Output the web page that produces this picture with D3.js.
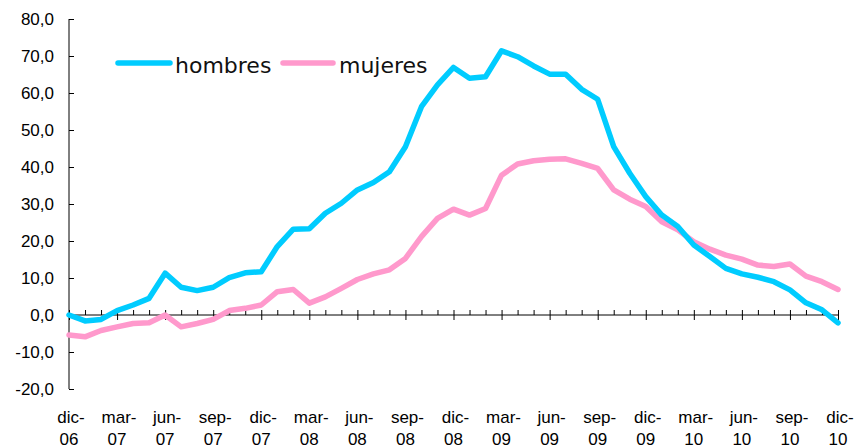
<!DOCTYPE html>
<html><head><meta charset="utf-8">
<script src="https://cdn.jsdelivr.net/npm/d3@7"></script>
<style>html,body{margin:0;padding:0;background:#fff}svg{display:block}</style>
</head><body>
<svg id="c" width="855" height="448"></svg>
<script>
const months = ["dic","ene","feb","mar","abr","may","jun","jul","ago","sep","oct","nov"];
const startYear = 2006; // first point: dic-06
const hombres = [0.0,-1.6,-1.2,1.2,2.7,4.5,11.3,7.5,6.6,7.5,10.1,11.4,11.7,18.5,23.2,23.3,27.5,30.2,33.8,35.8,38.7,45.5,56.3,62.2,66.9,64.0,64.4,71.4,69.8,67.3,65.1,65.1,61.0,58.3,45.5,38.3,32.0,27.0,23.9,18.9,15.8,12.6,11.1,10.2,9.0,6.8,3.3,1.4,-2.1];
const mujeres = [-5.4,-5.9,-4.2,-3.2,-2.3,-2.1,0.0,-3.2,-2.3,-1.2,1.2,1.8,2.7,6.3,6.9,3.2,4.9,7.2,9.6,11.1,12.2,15.3,21.2,26.1,28.6,27.0,28.8,37.8,40.8,41.7,42.1,42.2,41.0,39.6,33.8,31.3,29.3,25.2,23.0,19.8,17.8,16.2,15.1,13.5,13.1,13.8,10.5,9.0,6.9];
const yTicks = [-20,-10,0,10,20,30,40,50,60,70,80];
const seriesNames = ["hombres","mujeres"];
const colors = ["#00CCFF","#FF99CC"];

const svg = d3.select("#c");
const x = d3.scaleLinear().domain([0, hombres.length-1]).range([69, 838]);
const y = d3.scaleLinear().domain([-20, 80]).range([389, 19]);
const fmt = v => d3.format(".1f")(v).replace(".", ",").replace("−","-");

// y axis
const yAxis = svg.append("g").attr("transform","translate(69,0)")
  .call(d3.axisRight(y).tickValues(yTicks).tickSize(5).tickFormat(""));
yAxis.select(".domain").attr("d","M0,"+y(-20)+"V"+y(80)).attr("stroke","#000");
yAxis.selectAll(".tick line").attr("stroke","#000");
svg.append("g").selectAll("text").data(yTicks).join("text")
  .attr("x",54).attr("y",d=>y(d)+6).attr("text-anchor","end")
  .attr("font-family","Liberation Sans, Arial, sans-serif").attr("font-size",17).attr("fill","#000")
  .text(fmt);

// x axis at y=0
const idx = d3.range(hombres.length);
const minor = idx.filter(i=>i%3!==0);
const major = idx.filter(i=>i%3===0);
const gx = svg.append("g").attr("transform","translate(0,"+y(0)+")");
gx.call(d3.axisTop(x).tickValues(minor).tickSize(5).tickSizeOuter(0).tickFormat(""));
gx.select(".domain").attr("d","M"+x(0)+",0H"+x(48)).attr("stroke","#000");
gx.selectAll(".tick line").attr("stroke","#000");
const gx2 = svg.append("g").attr("transform","translate(0,"+(y(0)-5)+")");
gx2.call(d3.axisBottom(x).tickValues(major).tickSize(10).tickFormat(""));
gx2.select(".domain").remove();
gx2.selectAll(".tick line").attr("stroke","#000");

// x labels
const lab = svg.append("g").attr("font-family","Liberation Sans, Arial, sans-serif").attr("font-size",17).attr("fill","#000").attr("text-anchor","middle");
major.forEach(i=>{
  const m = months[i%12];
  const yr = (startYear + Math.floor((i+11)/12)) % 100;
  lab.append("text").attr("x",x(i)+2).attr("y",423).text(m+"-");
  lab.append("text").attr("x",x(i)).attr("y",445).text(String(yr).padStart(2,"0"));
});

// lines
const line = d3.line().x((d,i)=>x(i)).y(d=>y(d));
[mujeres, hombres].forEach((s,k)=>{
  svg.append("path").datum(s).attr("d",line).attr("fill","none")
    .attr("stroke", k===0?colors[1]:colors[0]).attr("stroke-width",5.5)
    .attr("stroke-linejoin","round").attr("stroke-linecap","round");
});

// legend
const leg = [[118,170,175],[283,333,339]];
seriesNames.forEach((n,k)=>{
  svg.append("line").attr("x1",leg[k][0]).attr("x2",leg[k][1]).attr("y1",63).attr("y2",63)
    .attr("stroke",colors[k]).attr("stroke-width",5.5).attr("stroke-linecap","round");
  svg.append("text").attr("x",leg[k][2]).attr("y",73).attr("font-family","DejaVu Sans, sans-serif")
    .attr("font-size",22).attr("fill","#111").text(n);
});
</script>
</body></html>
